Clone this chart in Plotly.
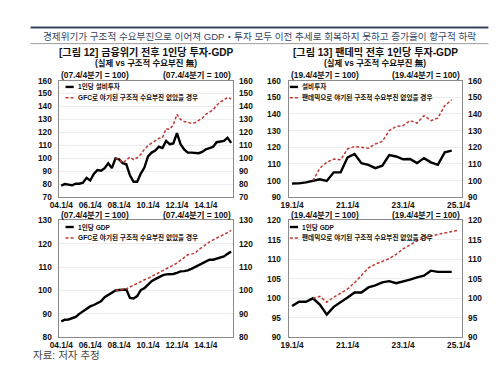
import plotly.graph_objects as go

W, H = 500, 367
FONT = "Arial, 'Liberation Sans', 'Noto Sans CJK KR', sans-serif"

# ---------------- data ----------------
quarters_left = [f"{y:02d}.{q}/4" for y in range(4, 16) for q in range(1, 5)]     # 04.1/4 .. 15.4/4
quarters_right = [f"{y:02d}.{q}/4" for y in range(19, 26) for q in range(1, 5)][:25]  # 19.1/4 .. 25.1/4
ticks_left = ["04.1/4", "06.1/4", "08.1/4", "10.1/4", "12.1/4", "14.1/4"]
ticks_right = ["19.1/4", "21.1/4", "23.1/4", "25.1/4"]
base_left = "07.4/4"
base_right = "19.4/4"

# [그림 12] 1인당 설비투자 (04.1/4 ~ 15.4/4)
gfc_invest = [79, 80.3, 79.8, 79.3, 80.5, 80.5, 81.3, 85, 83, 88, 91, 90.5, 92.5, 96.3, 92.5, 100,
              99.3, 96.3, 95.5, 87, 82, 82, 88.3, 93, 101.5, 104.5, 106, 109, 108, 113.5, 111, 111.5,
              119.5, 111, 107, 104.5, 104.5, 104.5, 104, 105, 107, 108, 109, 112.5, 113, 113.5, 116, 112]
# GFC로 야기된 구조적 수요부진 없었을 경우 (07.4/4 ~ 15.4/4)
gfc_invest_cf = [100, 99.5, 96.5, 98.5, 101, 99, 100.5, 103, 107, 110, 112, 114, 115.5, 116, 123,
                 122.5, 126, 134, 130, 128.5, 127.5, 127, 127.5, 129, 131, 134, 136, 137.5, 141,
                 143.5, 145, 147, 146]
# 1인당 GDP
gfc_gdp = [86.8, 87.5, 87.6, 88, 88.7, 90, 91.1, 92.1, 93.2, 93.8, 94.6, 95.4, 97.1, 98.1, 99.2, 100,
           100.2, 100.2, 100.4, 96.8, 96.6, 97.6, 100.2, 101, 102.6, 104, 104.9, 105.8, 106.5, 106.9,
           106.9, 107.1, 107.6, 108.2, 108.3, 108.6, 109.3, 110.1, 111, 111.7, 112.4, 113.2, 113.2,
           113.6, 114.3, 114.6, 115.7, 116.7]
gfc_gdp_cf = [100, 100.2, 100.4, 100.7, 101.5, 102.3, 103, 104, 104.6, 105.2, 106, 106.8, 107.6,
              108.5, 109.3, 110, 110.8, 111.7, 113, 114.3, 115.3, 115.6, 116, 117.5, 118.7, 119.8,
              120.8, 121.7, 122.4, 123.2, 124, 124.8, 125.8]

# [그림 13] 설비투자 (19.1/4 ~ 24.4/4)
pan_invest = [98.3, 98.4, 99, 100, 100.8, 99.8, 105, 105, 114, 116, 110.5, 109.5, 107.5, 109,
              115.3, 114.5, 112.8, 113, 110.5, 113.5, 111, 109.5, 117, 118]
pan_invest_cf = [100, 107.5, 111, 113, 112.5, 119, 120.5, 120, 119.5, 122, 123.5, 130, 132.5, 133,
                 136, 134.5, 139, 136, 137.5, 145, 148.5]
# 1인당 GDP
pan_gdp = [98, 99.1, 99.1, 100, 98.4, 95.8, 97.8, 98.9, 100.2, 101.5, 101.5, 102.8, 103.3, 104.1,
           104.4, 103.9, 104.3, 104.8, 105.4, 105.8, 107.1, 106.8, 106.8, 106.8]
pan_gdp_cf = [100, 100.5, 99, 100.3, 101.3, 102.4, 104, 105.8, 107.8, 108.8, 109.5, 110.2, 111.3,
              112.7, 113.7, 114.8, 115.5, 116, 116.4, 116.8, 117.2, 117.5]

# ---------------- helpers ----------------
def px(x):
    return x / W

def py(y):
    return 1 - y / H

BLACK = "#000000"
RED = "#BE3A32"
BLACK_W, RED_W, RED_DASH = 2.4, 1.5, "3px,2px"

bl = quarters_left.index(base_left)
br = quarters_right.index(base_right)

# xaxis, yaxis(left), yaxis(right), actual, cf, base index, names, legend anchor (left px, top-entry px)
panels = [
    ("x", "y", "y5", gfc_invest, gfc_invest_cf, bl, "1인당 설비투자", "GFC로 야기된 구조적 수요부진 없었을 경우", 49.3, 76),
    ("x2", "y2", "y6", pan_invest, pan_invest_cf, br, "설비투자", "팬데믹으로 야기된 구조적 수요부진 없었을 경우", 282, 76),
    ("x3", "y3", "y7", gfc_gdp, gfc_gdp_cf, bl, "1인당 GDP", "GFC로 야기된 구조적 수요부진 없었을 경우", 49.3, 220),
    ("x4", "y4", "y8", pan_gdp, pan_gdp_cf, br, "1인당 GDP", "팬데믹으로 야기된 구조적 수요부진 없었을 경우", 282, 220),
]

fig = go.Figure()
for xa, ya, yr, act, cf, base, n1, n2, lx, ly in panels:
    fig.add_trace(go.Scatter(x=list(range(len(act))), y=act, xaxis=xa, yaxis=ya, mode="lines",
                             name=n1, showlegend=False, line=dict(color=BLACK, width=BLACK_W)))
    fig.add_trace(go.Scatter(x=list(range(base, base + len(cf))), y=cf, xaxis=xa, yaxis=yr, mode="lines",
                             name=n2, showlegend=False, line=dict(color=RED, width=RED_W, dash=RED_DASH)))

# ---------------- geometry ----------------
xl = [px(43), px(223)]
xr = [px(280.7), px(460.7)]
yt = [py(189.5), py(69.5)]
yb = [py(333.3), py(213.3)]

tick_font = dict(family=FONT, size=8.3, color="#111111", weight="bold")

def xaxis(domain, anchor, ticks, cats):
    n = len(cats)
    return dict(domain=domain, anchor=anchor, range=[-0.5, n - 0.5], tickmode="array",
                tickvals=[cats.index(t) for t in ticks], ticktext=ticks, showgrid=False,
                zeroline=False, showline=True, mirror=True, linecolor="#8a8a8a", linewidth=1,
                ticks="", tickfont=tick_font, fixedrange=True)

def yaxis(domain, anchor, rng, dtick):
    return dict(domain=domain, anchor=anchor, range=rng, dtick=dtick, tick0=rng[0], showgrid=True,
                gridcolor="#ececec", gridwidth=1, zeroline=False, showline=True, mirror=True,
                linecolor="#8a8a8a", linewidth=1, ticks="", tickfont=tick_font,
                ticklabelstandoff=5, fixedrange=True)

def yaxis_r(over, anchor, rng, dtick):
    return dict(overlaying=over, anchor=anchor, side="right", range=rng, dtick=dtick, tick0=rng[0],
                showgrid=False, zeroline=False, showline=False, ticks="", tickfont=tick_font,
                ticklabelstandoff=5, fixedrange=True)

fig.update_layout(
    width=W, height=H, margin=dict(l=0, r=0, t=0, b=0),
    paper_bgcolor="white", plot_bgcolor="white", showlegend=False,
    xaxis=xaxis(xl, "y", ticks_left, quarters_left),
    xaxis2=xaxis(xr, "y2", ticks_right, quarters_right),
    xaxis3=xaxis(xl, "y3", ticks_left, quarters_left),
    xaxis4=xaxis(xr, "y4", ticks_right, quarters_right),
    yaxis=yaxis(yt, "x", [70, 160], 10),
    yaxis2=yaxis(yt, "x2", [90, 160], 10),
    yaxis3=yaxis(yb, "x3", [80, 130], 10),
    yaxis4=yaxis(yb, "x4", [90, 120], 5),
    yaxis5=yaxis_r("y", "x", [70, 160], 10),
    yaxis6=yaxis_r("y2", "x2", [90, 160], 10),
    yaxis7=yaxis_r("y3", "x3", [80, 130], 10),
    yaxis8=yaxis_r("y4", "x4", [90, 120], 5),
)

# ---------------- page decoration ----------------
fig.add_shape(type="line", xref="paper", yref="paper", x0=px(13), x1=px(488), y0=py(15), y1=py(15),
              line=dict(color="#34435f", width=2))
fig.add_shape(type="line", xref="paper", yref="paper", x0=px(13), x1=px(488), y0=py(31.5), y1=py(31.5),
              line=dict(color="#9a9a9a", width=1))

def ann(text, x, y, size, xanchor="center", bold=True, color="#111111"):
    fig.add_annotation(text=text, x=px(x), y=py(y), xref="paper", yref="paper", showarrow=False,
                       xanchor=xanchor, yanchor="middle",
                       font=dict(family=FONT, size=size, color=color, weight="bold" if bold else "normal"))

# in-plot legends (short line samples as in the original)
LEG_STEP = 11.2
for xa, ya, yr, act, cf, base, n1, n2, lx, ly in panels:
    for k, (name, col, w, dash) in enumerate([(n1, BLACK, BLACK_W, "solid"), (n2, RED, RED_W, RED_DASH)]):
        yy = ly + k * LEG_STEP
        fig.add_shape(type="line", xref="paper", yref="paper", x0=px(lx), x1=px(lx + 8.5),
                      y0=py(yy), y1=py(yy), line=dict(color=col, width=w, dash=dash))
        ann(name, lx + 10.5, yy, 6.6, xanchor="left")

ann("경제위기가 구조적 수요부진으로 이어져 GDP・투자 모두 이전 추세로 회복하지 못하고 증가율이 항구적 하락",
    250, 24, 9.6, bold=False, color="#34435f")
ann("[그림 12] 금융위기 전후 1인당 투자-GDP", 133, 40, 10.1)
ann("(실제 vs 구조적 수요부진 無)", 133, 51.5, 8.4)
ann("[그림 13] 팬데믹 전후 1인당 투자-GDP", 370.7, 40, 10.1)
ann("(실제 vs 구조적 수요부진 無)", 370.7, 51.5, 8.4)

for yy in (64, 208):
    ann("(07.4/4분기 = 100)", 43, yy, 8.4, xanchor="left")
    ann("(07.4/4분기 = 100)", 223, yy, 8.4, xanchor="right")
    ann("(19.4/4분기 = 100)", 280.7, yy, 8.4, xanchor="left")
    ann("(19.4/4분기 = 100)", 460.7, yy, 8.4, xanchor="right")

ann("자료: 저자 추정", 13, 352, 10.5, xanchor="left", bold=False, color="#444444")

fig.write_html("out.html")
